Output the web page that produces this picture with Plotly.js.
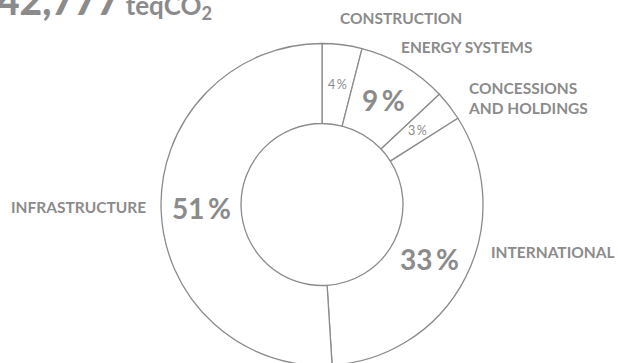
<!DOCTYPE html>
<html>
<head>
<meta charset="utf-8">
<script src="https://cdn.plot.ly/plotly-3.0.1.min.js"></script>
<style>
html,body{margin:0;padding:0;overflow:hidden;background:#fff;}
#chart{width:618px;height:370px;}
</style>
</head>
<body>
<div id="chart"></div>
<script>
// Data
var categories = ['CONSTRUCTION', 'ENERGY SYSTEMS', 'CONCESSIONS<br>AND HOLDINGS', 'INTERNATIONAL', 'INFRASTRUCTURE'];
var shares = [4, 9, 3, 33, 51];
var totalValue = '42,777';
var totalUnit = 'teqCO<sub>2</sub>';

var GRAY = '#8b8b8b';
var W = 618, H = 370;
var cx = 322, cy = 204.5, R = 161;

var pctSizes = [12.5, 28, 12.5, 28, 28];

var trace = {
  type: 'pie',
  values: shares,
  labels: categories,
  sort: false,
  direction: 'clockwise',
  rotation: 0,
  hole: 0.503,
  domain: {x: [(cx - R) / W, (cx + R) / W], y: [(H - cy - R) / H, (H - cy + R) / H]},
  marker: {colors: ['#ffffff','#ffffff','#ffffff','#ffffff','#ffffff'], line: {color: GRAY, width: 1.3}},
  textinfo: 'none',
  hoverinfo: 'none',
  showlegend: false
};

// Percentage labels placed at mid-ring, mid-angle of each slice (computed from data)
var annotations = [];
var total = shares.reduce(function(a, b){ return a + b; }, 0);
var cum = 0;
var rMid = R * (1 + 0.503) / 2;
shares.forEach(function(v, i){
  var mid = (cum + v / 2) / total * 2 * Math.PI;
  cum += v;
  var px = cx + rMid * Math.sin(mid);
  var py = cy - rMid * Math.cos(mid);
  annotations.push({
    xref: 'paper', yref: 'paper', x: px / W, y: (H - py) / H,
    xanchor: 'center', yanchor: 'middle', showarrow: false,
    text: v + '\u2009%',
    font: {family: 'Lato, sans-serif', size: pctSizes[i], color: GRAY, weight: pctSizes[i] > 15 ? 'bold' : 'normal'}
  });
});

// Category labels
var labelPos = [
  {x: 338, y: 18, a: 'left'},
  {x: 399, y: 47, a: 'left'},
  {x: 466, y: 98, a: 'left'},
  {x: 489, y: 252, a: 'left'},
  {x: 148, y: 207, a: 'right'}
];
categories.forEach(function(c, i){
  var p = labelPos[i];
  annotations.push({
    xref: 'paper', yref: 'paper', x: p.x / W, y: (H - p.y) / H,
    xanchor: p.a, yanchor: 'middle', align: 'left', showarrow: false,
    text: c,
    font: {family: 'Lato, sans-serif', size: 15.5, color: GRAY, weight: 'bold'}
  });
});

// Total headline
annotations.push({
  xref: 'paper', yref: 'paper', x: -5 / W, y: (H - 14) / H,
  xanchor: 'left', yanchor: 'bottom', showarrow: false, yshift: -12,
  text: '<span style="font-size:39px;font-weight:900">' + totalValue + '</span> <span style="font-size:26px">' + totalUnit + '</span>',
  font: {family: 'Lato, sans-serif', size: 26, color: GRAY, weight: 'bold'}
});

var layout = {
  width: W, height: H,
  margin: {l: 0, r: 0, t: 0, b: 0},
  paper_bgcolor: '#ffffff',
  plot_bgcolor: '#ffffff',
  annotations: annotations
};

Plotly.newPlot('chart', [trace], layout, {staticPlot: true, displayModeBar: false});
</script>
</body>
</html>
